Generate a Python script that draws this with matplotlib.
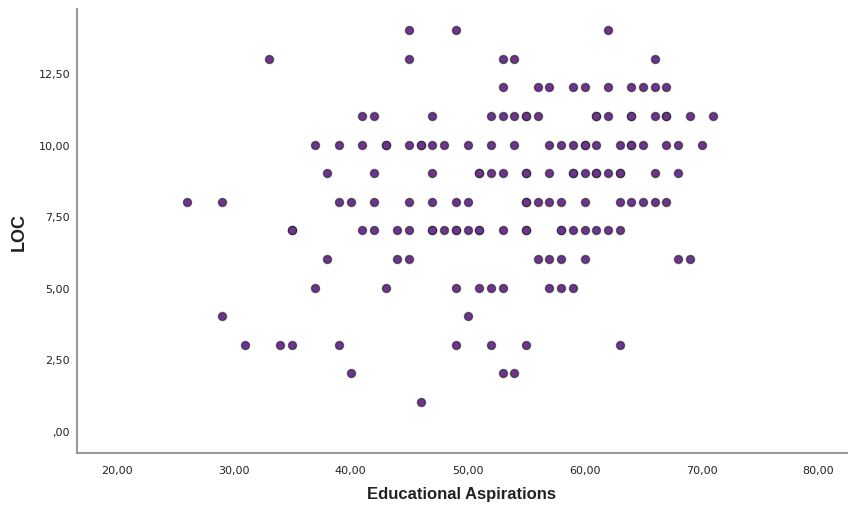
import matplotlib

matplotlib.use("Agg")
import matplotlib.pyplot as plt
from matplotlib.ticker import FixedLocator, FuncFormatter

# Educational Aspirations scores, grouped by LOC score.
# Repeated entries are cases that share the same pair of scores.
asp_loc14 = [45, 49, 62]
asp_loc13 = [33, 45, 53, 54, 66]
asp_loc12 = [53, 56, 57, 59, 60, 62, 64, 65, 66, 67]
asp_loc11 = [41, 42, 47, 52, 53, 54, 55, 55, 56, 61, 61, 62, 64, 64, 66,
             67, 67, 69, 71]
asp_loc10 = [37, 39, 41, 43, 43, 45, 46, 46, 47, 48, 50, 52, 54, 57, 58,
             59, 60, 60, 61, 63, 64, 64, 65, 67, 68, 70]
asp_loc9 = [38, 42, 47, 51, 51, 52, 53, 55, 55, 57, 59, 59, 60, 61, 61,
            62, 63, 63, 66, 68]
asp_loc8 = [26, 29, 39, 40, 42, 45, 47, 49, 50, 55, 55, 56, 57, 58, 60,
            63, 64, 65, 66, 67]
asp_loc7 = [35, 35, 41, 42, 44, 45, 47, 47, 48, 49, 49, 50, 51, 51, 53,
            55, 55, 58, 58, 59, 60, 61, 62, 63]
asp_loc6 = [38, 44, 45, 56, 57, 58, 60, 68, 69]
asp_loc5 = [37, 43, 49, 51, 52, 53, 57, 58, 59]
asp_loc4 = [29, 50]
asp_loc3 = [31, 34, 35, 39, 49, 52, 55, 63]
asp_loc2 = [40, 53, 54]
asp_loc1 = [46]

loc_levels = [14, 13, 12, 11, 10, 9, 8, 7, 6, 5, 4, 3, 2, 1]
asp_groups = [asp_loc14, asp_loc13, asp_loc12, asp_loc11, asp_loc10,
              asp_loc9, asp_loc8, asp_loc7, asp_loc6, asp_loc5, asp_loc4,
              asp_loc3, asp_loc2, asp_loc1]

x_ticks = [20, 30, 40, 50, 60, 70, 80]
y_ticks = [0, 2.5, 5, 7.5, 10, 12.5]

edu = []
loc = []
for level, group in zip(loc_levels, asp_groups):
    edu += group
    loc += [level] * len(group)

AXIS = "#9a9a9a"
INK = "#222222"

fig = plt.figure(figsize=(8.48, 5.06), dpi=100)
ax = fig.add_axes([0.0908, 0.1037, 0.908, 0.8773])

ax.scatter(edu, loc, s=34, facecolor="#6e3590",
           edgecolor=(0.1, 0.1, 0.1, 0.6), linewidths=1.0, zorder=3)

ax.set_xlim(16.62, 82.43)
ax.set_ylim(-0.77, 14.755)

# SPSS-style labels: comma decimals, ",00" for zero
def comma_fmt(v, _pos):
    s = f"{v:.2f}".replace(".", ",")
    return s[1:] if s.startswith("0,") else s

ax.xaxis.set_major_locator(FixedLocator(x_ticks))
ax.yaxis.set_major_locator(FixedLocator(y_ticks))
ax.xaxis.set_major_formatter(FuncFormatter(comma_fmt))
ax.yaxis.set_major_formatter(FuncFormatter(comma_fmt))
ax.tick_params(axis="both", length=0, labelsize=8, colors=INK)
ax.tick_params(axis="x", pad=9)
ax.tick_params(axis="y", pad=5)

ax.spines[["top", "right"]].set_visible(False)
for side in ("left", "bottom"):
    ax.spines[side].set_color(AXIS)
    ax.spines[side].set_linewidth(1.5)

label_font = ["Liberation Sans", "DejaVu Sans"]
ax.set_xlabel("Educational Aspirations", fontsize=12, fontweight="bold",
              family=label_font, color=INK, labelpad=8)
ax.set_ylabel("LOC", fontsize=13, fontweight="bold", family=label_font,
              color=INK, labelpad=8)

fig.savefig("out.png")
